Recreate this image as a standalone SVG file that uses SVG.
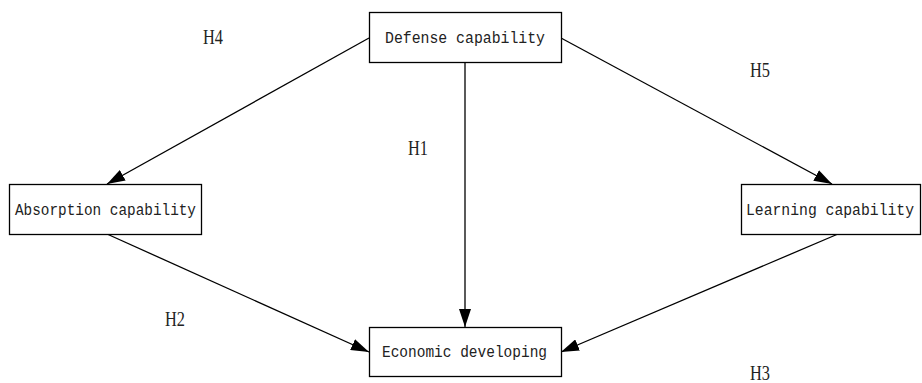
<svg xmlns="http://www.w3.org/2000/svg" width="922" height="383" viewBox="0 0 922 383">
<defs>
<style>
.box{fill:#fff;stroke:#000;stroke-width:1.3}
.t{font-family:"Liberation Mono","DejaVu Sans Mono",monospace;font-size:16px;fill:#222}
.h{font-family:"Liberation Serif","DejaVu Serif",serif;font-size:20px;fill:#222}
.c{stroke:#000;stroke-width:1.3;fill:none;marker-end:url(#ah)}
</style>
<marker id="ah" viewBox="0 0 18 12" refX="18" refY="6" markerWidth="18" markerHeight="12" markerUnits="userSpaceOnUse" orient="auto">
<path d="M0,0 L18,6 L0,12 Z" fill="#000"/>
</marker>
</defs>
<rect width="922" height="383" fill="#fff"/>
<g id="connectors">
<line class="c" x1="369" y1="38" x2="107" y2="184"/>
<line class="c" x1="561" y1="38" x2="832" y2="184"/>
<line class="c" x1="465" y1="62" x2="465" y2="327"/>
<line class="c" x1="107" y1="234" x2="369" y2="352"/>
<line class="c" x1="838" y1="234" x2="561" y2="352"/>
</g>
<g id="defense">
<rect class="box" x="369.5" y="12.5" width="192" height="50"/>
<text class="t" x="385" y="43" textLength="160" lengthAdjust="spacingAndGlyphs">Defense capability</text>
</g>
<g id="absorption">
<rect class="box" x="9.5" y="184.5" width="192" height="50"/>
<text class="t" x="15" y="215" textLength="181" lengthAdjust="spacingAndGlyphs">Absorption capability</text>
</g>
<g id="learning">
<rect class="box" x="741.5" y="184.5" width="179" height="50"/>
<text class="t" x="746" y="215" textLength="168" lengthAdjust="spacingAndGlyphs">Learning capability</text>
</g>
<g id="economic">
<rect class="box" x="369.5" y="327.5" width="192" height="49"/>
<text class="t" x="382" y="357" textLength="165" lengthAdjust="spacingAndGlyphs">Economic developing</text>
</g>
<g id="labels">
<text class="h" x="203" y="44" textLength="20" lengthAdjust="spacingAndGlyphs">H4</text>
<text class="h" x="408" y="155" textLength="20" lengthAdjust="spacingAndGlyphs">H1</text>
<text class="h" x="750" y="77" textLength="20" lengthAdjust="spacingAndGlyphs">H5</text>
<text class="h" x="165" y="326" textLength="20" lengthAdjust="spacingAndGlyphs">H2</text>
<text class="h" x="750" y="380" textLength="20" lengthAdjust="spacingAndGlyphs">H3</text>
</g>
</svg>
